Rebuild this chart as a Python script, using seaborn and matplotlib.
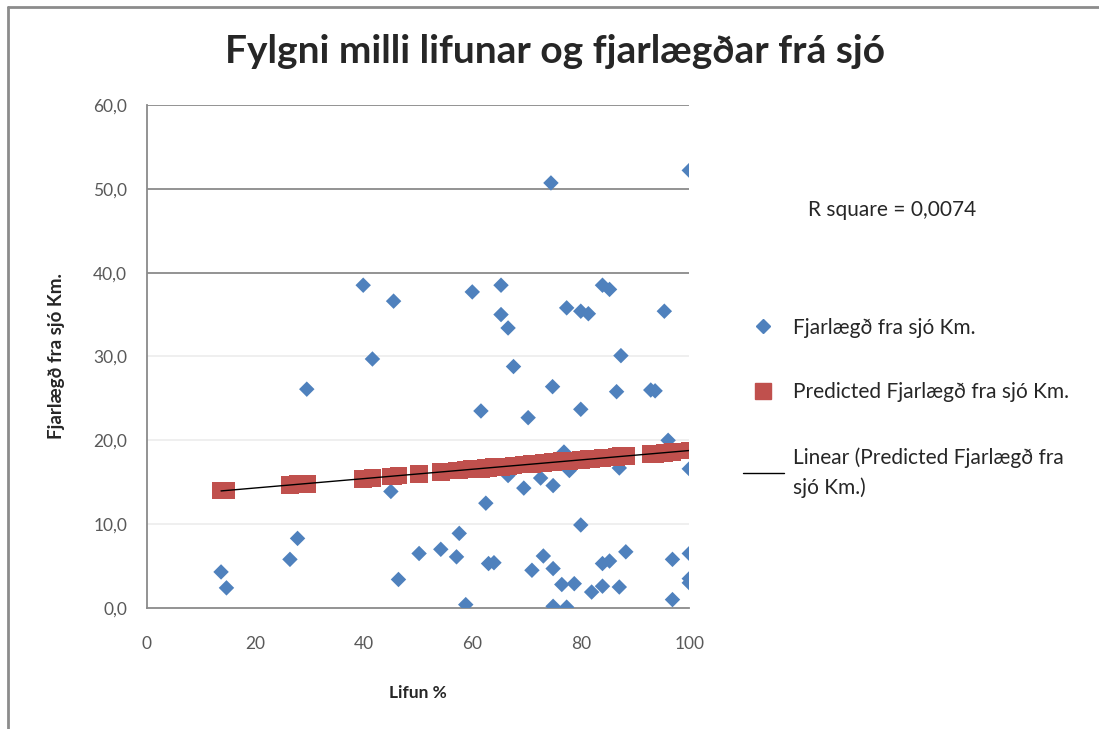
import numpy as np
import pandas as pd
import seaborn as sns
import matplotlib.pyplot as plt
from matplotlib.lines import Line2D

# Data: survival % vs distance from sea (km)
lifun = [13.7, 14.7, 26.4, 27.8, 29.5, 39.9, 41.6, 45.0, 45.5, 46.4,
         50.2, 54.2, 57.1, 57.6, 58.8, 60.0, 61.6, 62.5, 63.0, 64.0,
         65.3, 65.3, 66.6, 66.6, 67.6, 69.5, 70.3, 71.0, 72.6, 73.1,
         74.5, 74.8, 74.9, 74.9, 74.9, 76.5, 76.9, 77.4, 77.4, 77.9,
         78.8, 80.0, 80.0, 80.0, 81.4, 82.0, 84.0, 84.0, 84.0, 85.3,
         85.3, 86.6, 87.1, 87.1, 87.4, 88.3, 92.9, 93.7, 95.4, 96.1,
         96.9, 96.9, 100.0, 100.0, 100.0, 100.0, 100.0]
fjarlaegd = [4.3, 2.4, 5.8, 8.3, 26.1, 38.5, 29.7, 13.9, 36.6, 3.4,
             6.5, 7.0, 6.1, 8.9, 0.4, 37.7, 23.5, 12.5, 5.3, 5.4,
             38.5, 35.0, 33.4, 15.8, 28.8, 14.3, 22.7, 4.5, 15.5, 6.2,
             50.7, 26.4, 14.6, 4.7, 0.2, 2.8, 18.6, 35.8, 0.1, 16.4,
             2.9, 35.4, 23.7, 9.9, 35.1, 1.9, 38.5, 5.3, 2.6, 38.0,
             5.6, 25.8, 16.7, 2.5, 30.1, 6.7, 26.0, 25.9, 35.4, 20.0,
             5.8, 1.0, 52.2, 16.6, 6.5, 3.5, 3.0]
predicted = [14.0, 14.0, 14.7, 14.8, 14.8, 15.4, 15.5, 15.7, 15.7, 15.8,
             16.0, 16.2, 16.4, 16.4, 16.5, 16.55, 16.6, 16.7, 16.7, 16.8,
             16.85, 16.85, 16.9, 16.9, 17.0, 17.1, 17.1, 17.15, 17.25, 17.3,
             17.35, 17.4, 17.4, 17.4, 17.4, 17.5, 17.5, 17.5, 17.5, 17.55,
             17.6, 17.65, 17.65, 17.65, 17.75, 17.8, 17.9, 17.9, 17.9, 17.95,
             17.95, 18.0, 18.05, 18.05, 18.1, 18.1, 18.4, 18.4, 18.5, 18.55,
             18.6, 18.6, 18.8, 18.8, 18.8, 18.8, 18.8]
r_square = "0,0074"

df = pd.DataFrame({"lifun": lifun, "fjarlaegd": fjarlaegd, "predicted": predicted})

sns.set_style("white")
plt.rcParams["font.family"] = ["Lato", "DejaVu Sans"]

blue = "#4F81BD"
red = "#C0504D"

fig = plt.figure(figsize=(10.99, 7.29), dpi=100)
ax = fig.add_axes([0.1335, 0.166, 0.4937, 0.690])

sns.scatterplot(data=df, x="lifun", y="fjarlaegd", marker="D", color=blue,
                s=62, edgecolor="none", ax=ax, zorder=3)
sns.scatterplot(data=df, x="lifun", y="predicted", marker="s", color=red,
                s=160, edgecolor="none", ax=ax, zorder=4)
sns.regplot(data=df, x="lifun", y="predicted", scatter=False, ci=None,
            truncate=True, color="black", line_kws={"lw": 1, "zorder": 5}, ax=ax)

ax.set_xlim(0, 100)
ax.set_ylim(0, 60)
ax.set_xticks(range(0, 101, 20))
ax.set_yticks(range(0, 61, 10))
ax.set_yticklabels([f"{v},0" for v in range(0, 61, 10)])

# grid: upper lines are dark, lower ones faint as in the original
for v in range(10, 61, 10):
    ax.axhline(v, color="#8a8a8a" if v >= 40 else "#eeeeee", lw=1.3, zorder=1)

for side in ["top", "right"]:
    ax.spines[side].set_visible(False)
for side in ["left", "bottom"]:
    ax.spines[side].set_color("#8a8a8a")
    ax.spines[side].set_linewidth(1.3)
ax.tick_params(axis="both", direction="out", length=6, width=1.2, color="#8a8a8a",
               labelsize=12.5, labelcolor="#595959", pad=8)
ax.tick_params(axis="x", pad=14)

ax.set_xlabel("Lifun %", fontsize=12.5, fontweight="bold", labelpad=24)
ax.set_ylabel("Fjarlægð fra sjó Km.", fontsize=13.5, fontweight="bold", labelpad=20)

fig.text(0.505, 0.929, "Fylgni milli lifunar og fjarlægðar frá sjó",
         ha="center", va="center", fontsize=28, fontweight="bold")
fig.text(0.735, 0.712, f"R square = {r_square}", fontsize=15, va="center")

handles = [
    Line2D([], [], marker="D", color=blue, ls="none", markersize=7),
    Line2D([], [], marker="s", color=red, ls="none", markersize=12),
    Line2D([], [], color="black", lw=1),
]
labels = ["Fjarlægð fra sjó Km.", "Predicted Fjarlægð fra sjó Km.",
          "Linear (Predicted Fjarlægð fra\nsjó Km.)"]
leg = fig.legend(handles, labels, loc="upper left", bbox_to_anchor=(0.659, 0.59),
                 frameon=False, fontsize=15, labelspacing=2.15, handlelength=1.95,
                 handletextpad=0.45)
for t in leg.get_texts():
    t.set_linespacing(1.55)

# chart border
fig.add_artist(Line2D([8 / 1099, 8 / 1099], [0, 1 - 7 / 729], color="#8c8c8c", lw=2))
fig.add_artist(Line2D([8 / 1099, 1], [1 - 7 / 729, 1 - 7 / 729], color="#8c8c8c", lw=2))

plt.savefig("out.png", dpi=100)
